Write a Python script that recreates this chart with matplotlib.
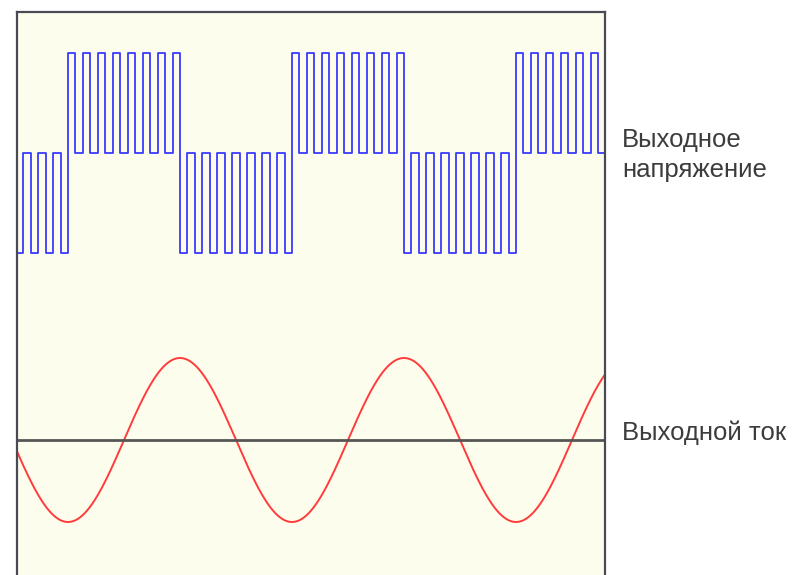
import matplotlib
matplotlib.use("Agg")
import matplotlib.pyplot as plt
import numpy as np

# half-cycles of the output voltage, starting at -180 deg (one period = 360 deg)
half_cycle_polarity = [-1, 1, -1, 1, -1, 1]
pulses_per_half = 8
voltage_offset = 2.87      # where the voltage trace sits above the current axis
current_amplitude = 0.82
current_lag_deg = 90

label_voltage = ["Выходное", "напряжение"]
label_current = "Выходной ток"

# build the PWM step trace: 15 equal slots per half, pulses in the odd ones
slot = 180.0 / (2 * pulses_per_half - 1)
xs, ys = [], []
for k, pol in enumerate(half_cycle_polarity):
    start = -180 + 180 * k
    for j in range(pulses_per_half):
        a = start + 2 * j * slot
        b = a + slot
        xs += [a, a, b, b]
        ys += [0, pol, pol, 0]
xs = np.array(xs)
ys = np.array(ys) + voltage_offset

t = np.linspace(-100, 900, 2000)
cur = current_amplitude * np.sin(np.radians(t - current_lag_deg))

fig = plt.figure(figsize=(7.95, 5.75), dpi=100)
ax = fig.add_axes([17 / 795, -10 / 575, 588 / 795, (575 + 10 - 12) / 575])
ax.set_facecolor("#fdfdee")

ax.plot(xs, ys, color="#3a3aff", lw=1.3)
ax.plot(t, cur, color="#ff3b3b", lw=1.4)
ax.axhline(0, color="#555555", lw=2)

ax.set_xlim(-82, 863)
ax.set_ylim(-1.45, 4.28)
ax.set_xticks([])
ax.set_yticks([])
for s in ax.spines.values():
    s.set_color("#4a4a55")
    s.set_linewidth(1.6)

font = dict(family=["Liberation Sans", "DejaVu Sans"], fontsize=18.5, color="#3c3c3c")
fig.text(622 / 795, 1 - 147 / 575, label_voltage[0], va="baseline", ha="left", **font)
fig.text(622 / 795, 1 - 177 / 575, label_voltage[1], va="baseline", ha="left", **font)
fig.text(622 / 795, 1 - 440 / 575, label_current, va="baseline", ha="left", **font)

fig.savefig("out.png", dpi=100, facecolor="white")
